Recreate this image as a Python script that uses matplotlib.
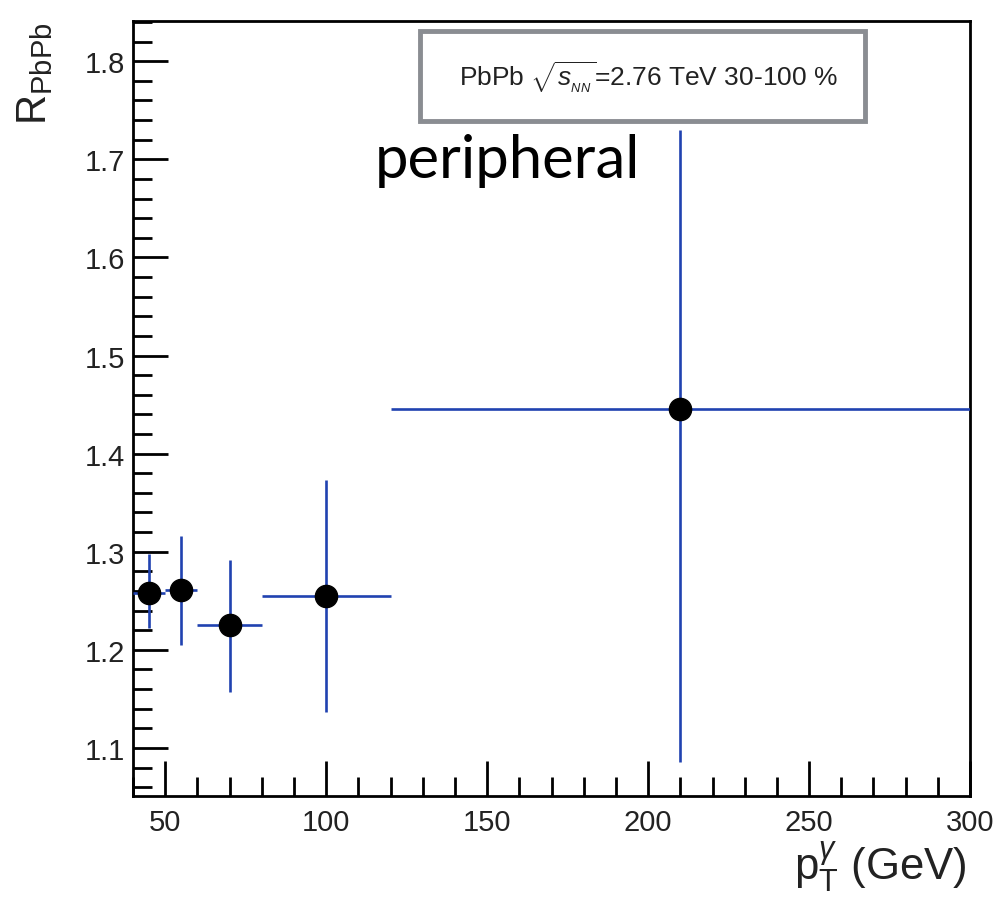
import matplotlib
matplotlib.use('Agg')
import matplotlib.pyplot as plt
from matplotlib.patches import Rectangle
import numpy as np

# photon R_PbPb, peripheral 30-100 %
pt = [45, 55, 70, 100, 210]
raa = [1.258, 1.261, 1.225, 1.255, 1.446]
bin_lo = [40, 50, 60, 80, 120]
bin_hi = [50, 60, 80, 120, 300]
raa_hi = [1.298, 1.316, 1.292, 1.373, 1.730]
raa_lo = [1.222, 1.205, 1.157, 1.137, 1.086]

xticks = [50, 100, 150, 200, 250, 300]
yticks = [1.1, 1.2, 1.3, 1.4, 1.5, 1.6, 1.7, 1.8]

plt.rcParams['font.family'] = ['Liberation Sans', 'DejaVu Sans']
plt.rcParams['mathtext.fontset'] = 'custom'
plt.rcParams['mathtext.rm'] = 'Liberation Sans'
plt.rcParams['mathtext.it'] = 'Liberation Sans:italic'

fig = plt.figure(figsize=(9.97, 9.03), dpi=100)
ax = fig.add_axes([0.1334, 0.1174, 0.973 - 0.1334, 0.9756 - 0.1174])

xerr = [np.array(pt) - np.array(bin_lo), np.array(bin_hi) - np.array(pt)]
yerr = [np.array(raa) - np.array(raa_lo), np.array(raa_hi) - np.array(raa)]
ax.errorbar(pt, raa, xerr=xerr, yerr=yerr, fmt='o', color='black', markersize=16,
            ecolor='#2042b0', elinewidth=1.9, capsize=0, zorder=3)

ax.set_xlim(40, 300)
ax.set_ylim(1.051, 1.841)
ax.set_xticks(xticks)
ax.set_yticks(yticks)
ax.set_xticks(np.arange(40, 301, 10), minor=True)
ax.set_yticks(np.arange(1.06, 1.841, 0.02), minor=True)
ax.tick_params(which='both', direction='in', top=False, right=False, width=2, labelsize=21)
ax.tick_params(which='major', length=25)
ax.tick_params(which='minor', length=14)
ax.tick_params(axis='x', pad=9)
ax.tick_params(axis='y', pad=6)
ax.set_xticklabels([str(v) for v in xticks], color='#222222')
ax.set_yticklabels(['%.1f' % v for v in yticks], color='#222222')
for s in ax.spines.values():
    s.set_linewidth(2)

# axis titles, ROOT style at the axis ends
fig.text(0.970, 0.010, r'p$_{\mathrm{T}}^{\gamma}$ (GeV)', ha='right', va='bottom', fontsize=31.5, color='#222222')
fig.text(0.015, 0.9756, r'R$_{\mathrm{PbPb}}$', ha='left', va='top', rotation=90, fontsize=30, color='#222222')

# legend box
ax.add_patch(Rectangle((0.343, 0.871), 0.532, 0.116, transform=ax.transAxes, facecolor='white',
                       edgecolor='#8a8d92', linewidth=3.5, zorder=4))
ax.text(0.616, 0.929, r'PbPb $\sqrt{s_{_{NN}}}$=2.76 TeV 30-100 %', transform=ax.transAxes,
        ha='center', va='center', fontsize=19, color='#222222', zorder=5)

fig.text(0.376, 0.803, 'peripheral', fontsize=43, family='Lato', ha='left', va='baseline', color='black')

fig.savefig('out.png', dpi=100)
